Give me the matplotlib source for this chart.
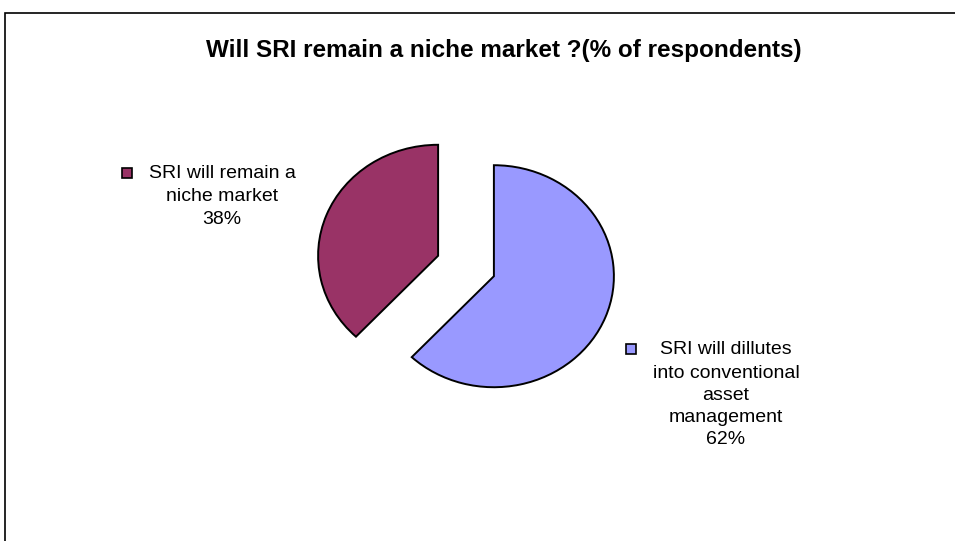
import matplotlib
matplotlib.use("Agg")
import matplotlib.pyplot as plt
from matplotlib.patches import Rectangle

categories = ["SRI will remain a niche market", "SRI will dillutes into conventional asset management"]
values = [38, 62]
colors = ["#993366", "#9999FF"]
label_lines = [
    ["SRI will remain a", "niche market", "38%"],
    ["SRI will dillutes", "into conventional", "asset", "management", "62%"],
]
title = "Will SRI remain a niche market ?(% of respondents)"

W, H = 955, 541
fig = plt.figure(figsize=(W / 100, H / 100), dpi=100)
ax = fig.add_axes([0, 0, 1, 1])

# pie centre in pixels and radii
cx, cy = 466, 266
rx, ry = 120, 111

# Draw in order: blue (62) first starting at 12 o'clock clockwise, then maroon
ax.pie([values[1], values[0]], colors=[colors[1], colors[0]], startangle=90,
       counterclock=False, explode=[0.25, 0.25], radius=1, center=(0, 0),
       wedgeprops=dict(edgecolor="black", linewidth=1.4), frame=False)
ax.set_xlim(-cx / rx, (W - cx) / rx)
ax.set_ylim(-(H - cy) / ry, cy / ry)
ax.set_aspect("auto")
ax.axis("off")

def fx(x):
    return x / W

def fy(y):
    return 1 - y / H

fig.text(fx(504), fy(50), title, ha="center", va="center", fontsize=17.5,
         fontweight="bold", family="Liberation Sans")

font = dict(fontsize=14, family="Liberation Sans", color="black")

# labels: (center x, list of line y, square center)
lab_pos = [
    (222, [173, 197, 220], (127, 173)),
    (726, [350, 373, 396, 418, 440], (631, 349)),
]
for (lx, ys, (sx, sy)), lines, c in zip(lab_pos, label_lines, colors):
    for t, yy in zip(lines, ys):
        fig.text(fx(lx), fy(yy), t, ha="center", va="center", **font)
    fig.patches.append(Rectangle((fx(sx - 5), fy(sy + 5)), 10 / W, 10 / H,
                                 transform=fig.transFigure, facecolor=c,
                                 edgecolor="black", linewidth=1.2))

# outer frame (top and left visible)
fig.patches.append(Rectangle((fx(5), fy(H + 20)), (W + 20) / W, (H + 7) / H,
                             transform=fig.transFigure, fill=False,
                             edgecolor="black", linewidth=1.2))

fig.savefig("out.png", dpi=100)
